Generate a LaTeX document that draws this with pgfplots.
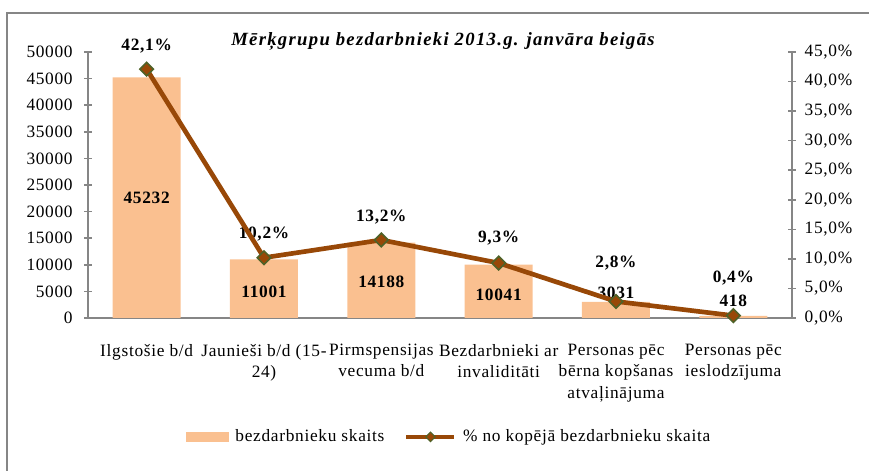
\documentclass[border=0pt]{standalone}
\usepackage{fontspec}
\setmainfont{Liberation Serif}[LetterSpace=4]
\newfontfamily\titlefont{Liberation Serif}[LetterSpace=7]
\usepackage{pgfplots}
\pgfplotsset{compat=1.18}
\definecolor{barc}{RGB}{250,192,144}
\definecolor{linec}{RGB}{152,72,7}
\definecolor{markc}{RGB}{79,98,40}
\definecolor{axc}{RGB}{134,134,134}
\begin{document}
\fontsize{13}{16}\selectfont
\begin{tikzpicture}[x=1pt,y=1pt]
\useasboundingbox (0,0) rectangle (651.75,353.25);
\draw[axc, line width=1.3pt] (5.25,0) -- (5.25,343.5) -- (651.75,343.5);
\begin{axis}[
  at={(66pt,114.75pt)}, anchor=south west,
  scale only axis, width=528pt, height=199.5pt,
  xmin=-0.5, xmax=5.5, ymin=0, ymax=50000,
  axis x line*=bottom, axis y line*=left,
  axis line style={axc, line width=1.5pt, -},
  clip=false,
  xtick={0,1,2,3,4,5},
  xticklabels={Ilgstošie b/d, {Jaunieši b/d (15-\\24)}, {Pirmspensijas\\vecuma b/d}, {Bezdarbnieki ar\\invaliditāti}, {Personas pēc\\bērna kopšanas\\atvaļinājuma}, {Personas pēc\\ieslodzījuma}},
  xticklabel style={align=center, anchor=north, yshift=-12pt},
  xtick style={draw=none},
  minor xtick={-0.5,0.5,1.5,2.5,3.5,4.5,5.5},
  minor x tick style={axc, line width=1.2pt},
  ytick={0,5000,...,50000},
  ytick style={axc, line width=1.2pt},
  scaled y ticks=false,
  tick align=center,
  major tick length=6pt, minor tick length=6pt,
  /pgf/number format/1000 sep={},
  /pgf/number format/assume math mode=true,
  yticklabel style={xshift=-4pt},
]
\addplot[ybar, bar width=51pt, fill=barc, draw=none] coordinates {(0,45232) (1,11001) (2,14188) (3,10041) (4,3031) (5,418)};
\begin{scope}[every node/.style={font=\bfseries, anchor=base}]
\node at (axis cs:0,21429) {45232};
\node at (axis cs:1,3947) {11001};
\node at (axis cs:2,5639) {14188};
\node at (axis cs:3,3383) {10041};
\node at (axis cs:4,3759) {3031};
\node at (axis cs:5,2068) {418};
\node at (axis cs:0,50376) {42,1\%};
\node at (axis cs:1,14850) {10,2\%};
\node at (axis cs:2,18233) {13,2\%};
\node at (axis cs:3,14098) {9,3\%};
\node at (axis cs:4,9586) {2,8\%};
\node at (axis cs:5,6579) {0,4\%};
\end{scope}
\end{axis}
\begin{axis}[
  at={(66pt,114.75pt)}, anchor=south west,
  scale only axis, width=528pt, height=199.5pt,
  xmin=-0.5, xmax=5.5, ymin=0, ymax=45,
  axis x line=none, axis y line*=right,
  axis line style={axc, line width=1.5pt, -},
  clip=false,
  ytick={0,5,...,45},
  ytick style={axc, line width=1.2pt},
  tick align=center, major tick length=6pt,
  /pgf/number format/assume math mode=true,
  yticklabel={\pgfmathprintnumber[fixed,fixed zerofill,precision=1,use comma]{\tick}\%},
  yticklabel style={xshift=2pt},
  legend style={at={(0.516,-0.447)}, anchor=center, draw=none, fill=none,
    legend columns=2, nodes={inner xsep=5pt},
    /tikz/every even column/.append style={column sep=10pt}},
  legend cell align=left,
]
\addlegendimage{legend image code/.code={\fill[barc] (0pt,-3.4pt) rectangle (32pt,3.4pt);}}
\addlegendentry{bezdarbnieku skaits}
\addlegendimage{legend image code/.code={
  \draw[linec, line width=3pt] (0pt,0pt) -- (36pt,0pt);
  \draw[markc, fill=linec, line width=0.8pt, rotate around={45:(18pt,0pt)}] (15.5pt,-2.5pt) rectangle (20.5pt,2.5pt);}}
\addlegendentry{\% no kopējā bezdarbnieku skaita}
\addplot[linec, line width=3.5pt, mark=square*, mark size=3.6pt,
  mark options={rotate=45, fill=linec, draw=markc, line width=1.2pt}]
  coordinates {(0,42.1) (1,10.2) (2,13.2) (3,9.3) (4,2.8) (5,0.4)};
\end{axis}
\node[font=\titlefont\fontsize{14}{17}\selectfont\bfseries\itshape, anchor=base] at (332.25,318.75) {Mērķgrupu bezdarbnieki 2013.g. janvāra beigās};
\end{tikzpicture}
\end{document}
